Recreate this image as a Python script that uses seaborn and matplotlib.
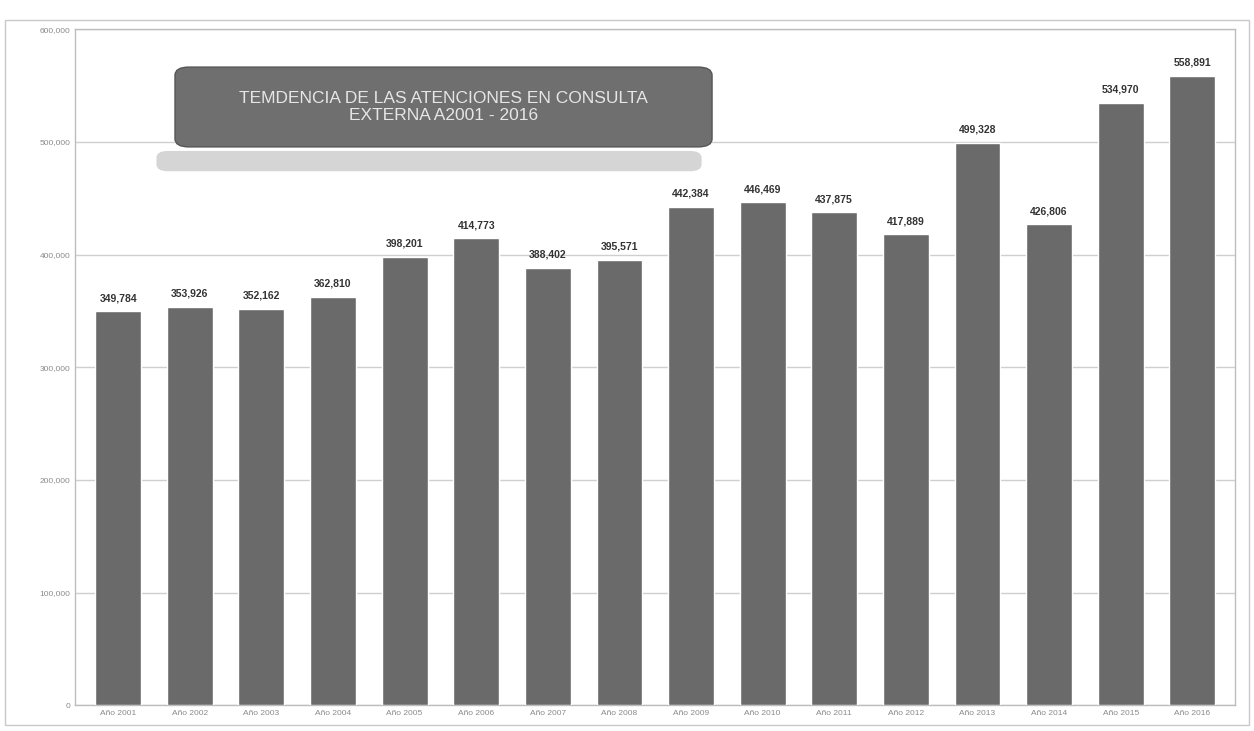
import matplotlib
matplotlib.use("Agg")
import matplotlib.pyplot as plt
import seaborn as sns
import pandas as pd
from matplotlib.patches import FancyBboxPatch
from matplotlib.ticker import FuncFormatter

# datos
anios = ["Año 2001", "Año 2002", "Año 2003", "Año 2004", "Año 2005", "Año 2006",
         "Año 2007", "Año 2008", "Año 2009", "Año 2010", "Año 2011", "Año 2012",
         "Año 2013", "Año 2014", "Año 2015", "Año 2016"]
atenciones = [349784, 353926, 352162, 362810, 398201, 414773, 388402, 395571,
              442384, 446469, 437875, 417889, 499328, 426806, 534970, 558891]
titulo = "TEMDENCIA DE LAS ATENCIONES EN CONSULTA\nEXTERNA A2001 - 2016"

df = pd.DataFrame({"anio": anios, "atenciones": atenciones})

sns.set_theme(style="white")
plt.rcParams['font.family'] = ['Liberation Sans', 'DejaVu Sans']

fig = plt.figure(figsize=(12.54, 7.31), dpi=100)
fig.patch.set_facecolor("white")
ax = fig.add_axes([0.06, 0.035, 0.925, 0.925])

sns.barplot(data=df, x="anio", y="atenciones", color="#6a6a6a", width=0.64,
            saturation=1, ax=ax, zorder=3)

# etiquetas de valor
for i, v in enumerate(atenciones):
    ax.text(i, v + 7000, f"{v:,}", ha="center", va="bottom", fontsize=7.5,
            fontweight="bold", color="#333333")

ax.set_ylim(0, 600000)
ax.set_xlim(-0.6, len(anios) - 0.4)
ax.set_yticks(range(0, 600001, 100000))
ax.yaxis.set_major_formatter(FuncFormatter(lambda x, p: f"{int(x):,}"))
ax.grid(True, axis="y", color="#cfcfcf", linewidth=1, zorder=0)
ax.tick_params(axis="both", labelsize=6, colors="#8a8a8a", length=0)
ax.set_xlabel("")
ax.set_ylabel("")
for s in ax.spines.values():
    s.set_color("#bdbdbd")
    s.set_linewidth(1)

# recuadro del titulo
sombra = FancyBboxPatch((0.075, 0.795), 0.46, 0.02, boxstyle="round,pad=0.005,rounding_size=0.01",
                        transform=ax.transAxes, facecolor="#c4c4c4", edgecolor="none",
                        alpha=0.7, zorder=4)
ax.add_patch(sombra)
caja = FancyBboxPatch((0.09, 0.83), 0.455, 0.11, boxstyle="round,pad=0.004,rounding_size=0.012",
                      transform=ax.transAxes, facecolor="#6f6f6f", edgecolor="#555555",
                      linewidth=1, zorder=5)
ax.add_patch(caja)
ax.text(0.3175, 0.885, titulo, transform=ax.transAxes, ha="center", va="center",
        fontsize=12.5, color="#e6e6e6", linespacing=1.15, zorder=6)

# borde exterior del grafico
fig.add_artist(plt.Rectangle((0.004, 0.008), 0.992, 0.965, transform=fig.transFigure,
                             fill=False, edgecolor="#c8c8c8", linewidth=1))

fig.savefig("out.png", dpi=100)
